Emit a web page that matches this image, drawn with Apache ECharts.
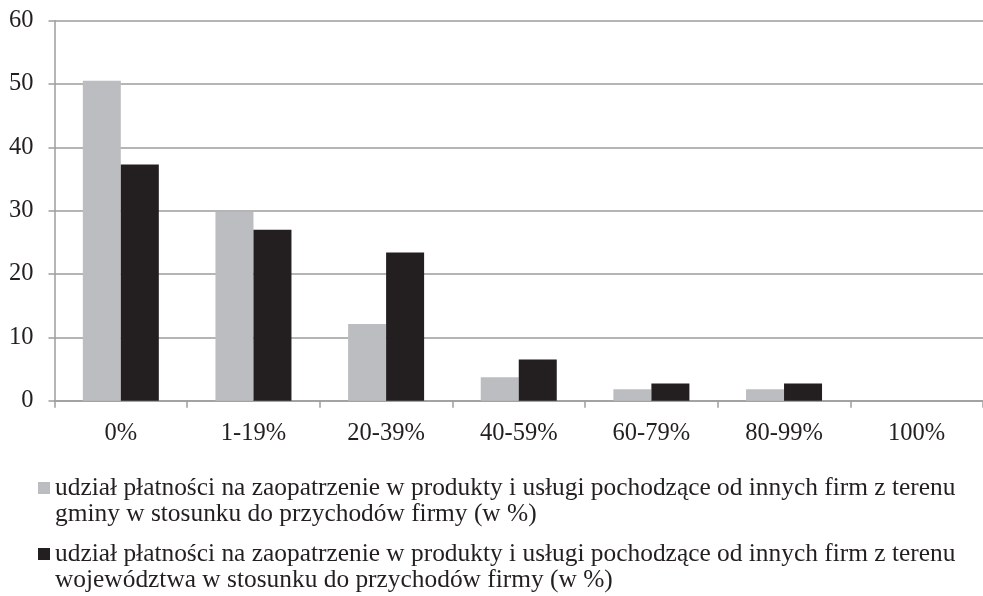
<!DOCTYPE html>
<html>
<head>
<meta charset="utf-8">
<script src="https://cdn.jsdelivr.net/npm/echarts@6/dist/echarts.min.js"></script>
<style>
html,body{margin:0;padding:0;background:#fff;}
#chart{width:983px;height:596px;}
</style>
</head>
<body>
<div id="chart"></div>
<script>
var categories = ['0%', '1-19%', '20-39%', '40-59%', '60-79%', '80-99%', '100%'];
var gminaValues = [50.5, 29.8, 12.1, 3.7, 1.8, 1.8, 0];
var wojValues = [37.3, 27.0, 23.4, 6.5, 2.7, 2.7, 0];
var gminaName = 'udział płatności na zaopatrzenie w produkty i usługi pochodzące od innych firm z terenu\ngminy w stosunku do przychodów firmy (w %)';
var wojName = 'udział płatności na zaopatrzenie w produkty i usługi pochodzące od innych firm z terenu\nwojewództwa w stosunku do przychodów firmy (w %)';
var yTicks = [0, 10, 20, 30, 40, 50, 60];

var FONT = '"Liberation Serif", "Times New Roman", serif';
var TXT = '#231f20';
var GRID = '#9d9d9d';

var legendText = {
  fontFamily: FONT, fontSize: 25.4, color: TXT, lineHeight: 26
};
function legendFmt(name) { return ' \n' + name; }

var chart = echarts.init(document.getElementById('chart'), null, {renderer: 'canvas'});
chart.setOption({
  animation: false,
  backgroundColor: '#fff',
  grid: {left: 54.5, top: 20.7, width: 932, height: 380, containLabel: false},
  legend: [
    {data: [gminaName], orient: 'vertical', left: 38, top: 449, padding: 0,
     itemWidth: 12, itemHeight: 12, itemGap: 0, icon: 'rect', textStyle: legendText, selectedMode: false,
     formatter: legendFmt, itemStyle: {borderWidth: 0}},
    {data: [wojName], orient: 'vertical', left: 38, top: 515, padding: 0,
     itemWidth: 12, itemHeight: 12, itemGap: 0, icon: 'rect', textStyle: legendText, selectedMode: false,
     formatter: legendFmt, itemStyle: {borderWidth: 0}}
  ],
  xAxis: {
    type: 'category',
    data: categories,
    boundaryGap: true,
    axisLine: {lineStyle: {color: GRID, width: 1.5}},
    axisTick: {show: true, length: 7, alignWithLabel: false, lineStyle: {color: GRID, width: 1.5}},
    axisLabel: {fontFamily: FONT, fontSize: 24.5, color: TXT, margin: 20}
  },
  yAxis: {
    type: 'value',
    min: yTicks[0],
    max: yTicks[yTicks.length - 1],
    interval: 10,
    axisLine: {show: true, lineStyle: {color: GRID, width: 1.5}},
    axisTick: {show: true, length: 6, lineStyle: {color: GRID, width: 1.5}},
    splitLine: {show: true, lineStyle: {color: GRID, width: 1.5}},
    axisLabel: {fontFamily: FONT, fontSize: 24.5, color: TXT, margin: 21}
  },
  series: [
    {name: gminaName, type: 'bar', data: gminaValues, barWidth: 38, barGap: '0%',
     itemStyle: {color: '#bcbdc0'}},
    {name: wojName, type: 'bar', data: wojValues, barWidth: 38, barGap: '0%',
     itemStyle: {color: '#231f20'}}
  ]
});
</script>
</body>
</html>
